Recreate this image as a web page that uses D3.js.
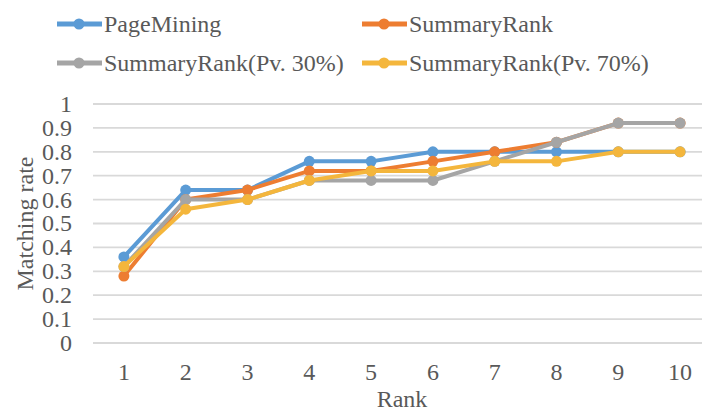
<!DOCTYPE html>
<html>
<head>
<meta charset="utf-8">
<script src="https://cdn.jsdelivr.net/npm/d3@7"></script>
<style>
  body { margin: 0; background: #fff; }
  svg text { font-family: "Liberation Serif", "Times New Roman", serif; fill: #595959; }
</style>
</head>
<body>
<div id="chart"></div>
<script>
// chart data
var ranks = [1, 2, 3, 4, 5, 6, 7, 8, 9, 10];
var yTicks = [0, 0.1, 0.2, 0.3, 0.4, 0.5, 0.6, 0.7, 0.8, 0.9, 1];
var seriesNames = ["PageMining", "SummaryRank", "SummaryRank(Pv. 30%)", "SummaryRank(Pv. 70%)"];
var seriesColors = ["#5B9BD5", "#ED7D31", "#A5A5A5", "#F4B63C"];
var pageMining = [0.36, 0.64, 0.64, 0.76, 0.76, 0.80, 0.80, 0.80, 0.80, 0.80];
var summaryRank = [0.28, 0.60, 0.64, 0.72, 0.72, 0.76, 0.80, 0.84, 0.92, 0.92];
var summaryRank30 = [0.32, 0.60, 0.60, 0.68, 0.68, 0.68, 0.76, 0.84, 0.92, 0.92];
var summaryRank70 = [0.32, 0.56, 0.60, 0.68, 0.72, 0.72, 0.76, 0.76, 0.80, 0.80];

var allSeries = [pageMining, summaryRank, summaryRank30, summaryRank70];

var width = 702, height = 414;
var plot = {left: 93, right: 711, top: 104, bottom: 343};

var svg = d3.select("#chart").append("svg")
    .attr("width", width)
    .attr("height", height);

var x = d3.scaleBand()
    .domain(ranks)
    .range([plot.left, plot.right]);

var y = d3.scaleLinear()
    .domain([0, 1])
    .range([plot.bottom, plot.top]);

// horizontal gridlines
svg.append("g")
    .selectAll("line")
    .data(yTicks)
    .enter()
    .append("line")
    .attr("x1", plot.left)
    .attr("x2", plot.right)
    .attr("y1", function (d) { return y(d); })
    .attr("y2", function (d) { return y(d); })
    .attr("stroke", "#d9d9d9")
    .attr("stroke-width", 1.8);

// y tick labels
svg.append("g")
    .selectAll("text")
    .data(yTicks)
    .enter()
    .append("text")
    .attr("x", 72)
    .attr("y", function (d) { return y(d); })
    .attr("dy", "0.33em")
    .attr("text-anchor", "end")
    .style("font-size", "24px")
    .text(function (d) { return d3.format("")(d); });

// x tick labels
svg.append("g")
    .selectAll("text")
    .data(ranks)
    .enter()
    .append("text")
    .attr("x", function (d) { return x(d) + x.bandwidth() / 2; })
    .attr("y", 380)
    .attr("text-anchor", "middle")
    .style("font-size", "24px")
    .text(function (d) { return d; });

// axis titles
svg.append("text")
    .attr("x", (plot.left + plot.right) / 2)
    .attr("y", 407)
    .attr("text-anchor", "middle")
    .style("font-size", "24px")
    .text("Rank");

svg.append("text")
    .attr("transform", "translate(33," + ((plot.top + plot.bottom) / 2) + ") rotate(-90)")
    .attr("text-anchor", "middle")
    .style("font-size", "24px")
    .text("Matching rate");

// the lines
var line = d3.line()
    .x(function (d, i) { return x(ranks[i]) + x.bandwidth() / 2; })
    .y(function (d) { return y(d); });

allSeries.forEach(function (values, k) {
    var g = svg.append("g").attr("class", "series");
    g.append("path")
        .datum(values)
        .attr("d", line)
        .attr("fill", "none")
        .attr("stroke", seriesColors[k])
        .attr("stroke-width", 4)
        .attr("stroke-linejoin", "round");
    g.selectAll("circle")
        .data(values)
        .enter()
        .append("circle")
        .attr("cx", function (d, i) { return x(ranks[i]) + x.bandwidth() / 2; })
        .attr("cy", function (d) { return y(d); })
        .attr("r", 5.5)
        .attr("fill", seriesColors[k]);
});

// legend, two columns by two rows
var legendPos = [[57, 24], [362, 24], [57, 63], [362, 63]];
var legend = svg.append("g")
    .selectAll("g")
    .data(seriesNames)
    .enter()
    .append("g")
    .attr("transform", function (d, i) {
        return "translate(" + legendPos[i][0] + "," + legendPos[i][1] + ")";
    });
legend.append("line")
    .attr("x1", 0)
    .attr("x2", 45)
    .attr("stroke", function (d, i) { return seriesColors[i]; })
    .attr("stroke-width", 5);
legend.append("circle")
    .attr("cx", 22)
    .attr("r", 5.5)
    .attr("fill", function (d, i) { return seriesColors[i]; });
legend.append("text")
    .attr("x", 47)
    .attr("y", 8)
    .style("font-size", "24px")
    .text(function (d) { return d; });
</script>
</body>
</html>
